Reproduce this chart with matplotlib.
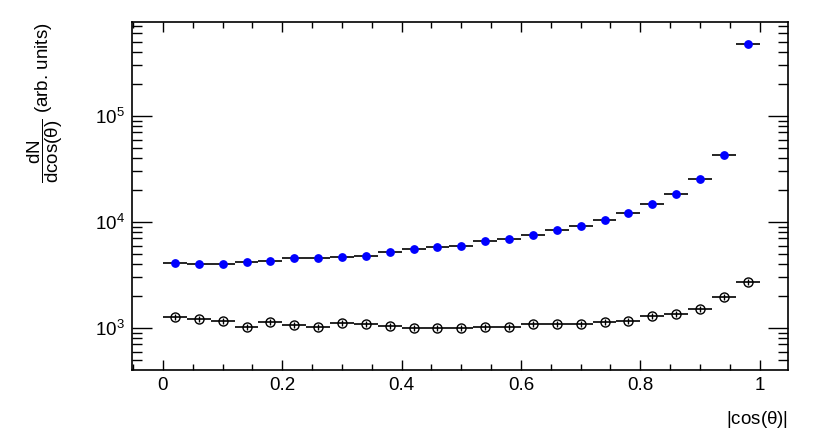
import numpy as np
import matplotlib
matplotlib.use("Agg")
import matplotlib.pyplot as plt
from matplotlib.ticker import MultipleLocator, LogLocator, NullFormatter, FuncFormatter

plt.rcParams['font.family'] = ['Liberation Sans', 'DejaVu Sans']
plt.rcParams['mathtext.fontset'] = 'custom'
plt.rcParams['mathtext.rm'] = 'Liberation Sans'
plt.rcParams['mathtext.it'] = 'Liberation Sans'
plt.rcParams['mathtext.bf'] = 'Liberation Sans:bold'

# bins of |cos(theta)|
bin_edges = np.linspace(0, 1, 26)
bin_centers = 0.5 * (bin_edges[:-1] + bin_edges[1:])
bin_half = 0.5 * np.diff(bin_edges)

# blue filled points
blue_vals = [4070, 3990, 4040, 4190, 4250, 4560, 4540, 4670, 4800, 5200,
             5550, 5790, 5990, 6590, 6980, 7620, 8360, 9120, 10370, 12140,
             14750, 18580, 25700, 43100, 474000]
# black open points
black_vals = [1285, 1231, 1163, 1028, 1138, 1058, 1013, 1122, 1081, 1035,
              1000, 1000, 998, 1013, 1029, 1081, 1090, 1097, 1145, 1170,
              1304, 1361, 1527, 1967, 2735]

fig = plt.figure(figsize=(8.3, 4.4), dpi=100)
ax = fig.add_axes([0.159, 0.159, 0.790, 0.791])

# black series: horizontal bin-width bars + open circles with a small vertical bar
ax.errorbar(bin_centers, black_vals, xerr=bin_half, fmt='none', ecolor='black',
            elinewidth=1.2, zorder=2)
ax.plot(bin_centers, black_vals, ls='none', marker='o', ms=6.5, mfc='none',
        mec='black', mew=1.0, zorder=3)
ax.plot(bin_centers, black_vals, ls='none', marker='|', ms=5, mec='black',
        mew=1.0, zorder=3)

# blue series
ax.errorbar(bin_centers, blue_vals, xerr=bin_half, fmt='none', ecolor='black',
            elinewidth=1.2, zorder=2)
ax.plot(bin_centers, blue_vals, ls='none', marker='o', ms=5.3, mfc='#0000ff',
        mec='#0000ff', zorder=4)

ax.set_yscale('log')
ax.set_xlim(-0.052, 1.047)
ax.set_ylim(402, 7.7e5)

ax.xaxis.set_major_locator(MultipleLocator(0.2))
ax.xaxis.set_minor_locator(MultipleLocator(0.05))
ax.xaxis.set_major_formatter(FuncFormatter(lambda v, p: '%g' % round(v, 3)))
ax.yaxis.set_major_locator(LogLocator(base=10, numticks=10))
ax.yaxis.set_minor_locator(LogLocator(base=10, subs=np.arange(2, 10), numticks=10))
ax.yaxis.set_minor_formatter(NullFormatter())

ax.tick_params(axis='both', which='both', direction='in', top=True, right=True,
               labelsize=13.5, width=1.0, color='black')
ax.tick_params(axis='x', which='major', length=7.5, pad=5)
ax.tick_params(axis='x', which='minor', length=4)
ax.tick_params(axis='y', which='major', length=14.5, pad=5)
ax.tick_params(axis='y', which='minor', length=7.5)

for sp in ax.spines.values():
    sp.set_linewidth(1.2)

ax.set_xlabel(r'|cos($\mathregular{\theta}$)|', fontsize=13.5, loc='right', labelpad=11)
ax.set_ylabel(r'$\dfrac{\mathregular{dN}}{\mathregular{dcos(\theta)}}$ (arb. units)',
              fontsize=13.5, loc='top', labelpad=22)

fig.savefig('out.png', dpi=100)
